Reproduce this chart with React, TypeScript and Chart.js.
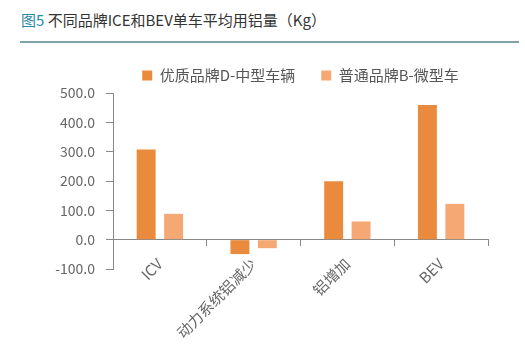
import React, { useEffect, useRef } from "react";
import { Chart, registerables } from "chart.js";

Chart.register(...registerables);

const categories = ["ICV", "动力系统铝减少", "铝增加", "BEV"];
const seriesNames = ["优质品牌D-中型车辆", "普通品牌B-微型车"];
const premiumValues = [307, -49, 199, 459];
const ordinaryValues = [88, -29, 62, 122];
const yMin = -100;
const yMax = 500;
const yStep = 100;

const FONT = '"Noto Sans CJK SC", "Noto Sans", sans-serif';

export default function App() {
  const ref = useRef<HTMLCanvasElement>(null);
  useEffect(() => {
    if (!ref.current) return;
    const chart = new Chart(ref.current, {
      type: "bar",
      data: {
        labels: categories,
        datasets: [
          {
            label: seriesNames[0],
            data: premiumValues,
            backgroundColor: "#EA8A3C",
            categoryPercentage: 0.585,
            barPercentage: 0.69,
          },
          {
            label: seriesNames[1],
            data: ordinaryValues,
            backgroundColor: "#F5A874",
            categoryPercentage: 0.585,
            barPercentage: 0.69,
          },
        ],
      },
      options: {
        responsive: false,
        animation: false,
        layout: { padding: { top: 42, right: 37, bottom: 88, left: 0 } },
        plugins: {
          tooltip: { enabled: false },
          legend: {
            position: "top",
            fullSize: false,
            labels: {
              boxWidth: 10,
              boxHeight: 10,
              padding: 26,
              color: "#555",
              font: { family: FONT, size: 15 },
            },
          },
        },
        scales: {
          x: {
            position: { y: 0 } as any,
            grid: {
              offset: true,
              drawOnChartArea: false,
              drawTicks: true,
              tickLength: 6,
              color: "#888",
            },
            border: { display: true, color: "#888", width: 1 },
            ticks: {
              color: "#666",
              font: { family: FONT, size: 15 },
              minRotation: 45,
              maxRotation: 45,
              padding: 9,
            },
          },
          y: {
            min: yMin,
            max: yMax,
            afterFit: (scale: any) => {
              scale.width = 113;
            },
            grid: {
              drawOnChartArea: false,
              drawTicks: true,
              tickLength: 7,
              color: "#888",
            },
            border: { display: true, color: "#888", width: 1 },
            ticks: {
              stepSize: yStep,
              color: "#666",
              padding: 11,
              font: { family: FONT, size: 14 },
              callback: (v: any) => Number(v).toFixed(1),
            },
          },
        },
      },
    });
    return () => chart.destroy();
  }, []);

  return (
    <div style={{ position: "absolute", left: 0, top: 0, width: 525, height: 357, background: "#fff" }}>
      <div
        style={{
          position: "absolute",
          left: 21,
          top: 9,
          fontFamily: FONT,
          fontSize: 15,
          lineHeight: "22px",
          color: "#333",
          whiteSpace: "nowrap",
        }}
      >
        <span style={{ color: "#2A8BA6" }}>图5</span> 不同品牌ICE和BEV单车平均用铝量（Kg）
      </div>
      <div
        style={{
          position: "absolute",
          left: 20,
          top: 41,
          width: 499,
          height: 2,
          background: "#7FA2AA",
        }}
      />
      <canvas ref={ref} width={525} height={357} style={{ position: "absolute", left: 0, top: 0, display: "block" }} />
    </div>
  );
}
